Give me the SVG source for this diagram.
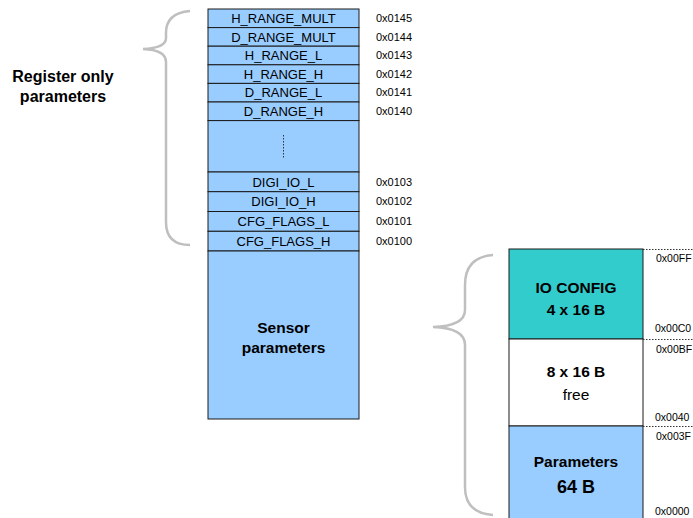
<svg xmlns="http://www.w3.org/2000/svg" width="693" height="518" viewBox="0 0 693 518">
<style>
.cell{fill:#99CCFF;stroke:#1a1a1a;stroke-width:1}
.lbl{font-family:"Liberation Sans",Arial,sans-serif;font-size:13px;fill:#000;text-anchor:middle}
.addr{font-family:"Liberation Sans",Arial,sans-serif;font-size:11px;fill:#000}
.addr2{font-family:"Liberation Sans",Arial,sans-serif;font-size:10.5px;fill:#000}
.bold{font-family:"Liberation Sans",Arial,sans-serif;font-weight:bold;fill:#000;text-anchor:middle}
.reg{font-family:"Liberation Sans",Arial,sans-serif;fill:#000;text-anchor:middle}
.brace{fill:none;stroke:#BFBFBF;stroke-width:2.5}
.dash{stroke:#333;stroke-width:1;stroke-dasharray:1.5,1.5}
</style>
<rect width="693" height="518" fill="#fff"/>
<g id="register-column">
<g id="r0145"><rect class="cell" x="208" y="9" width="151" height="18.6"/><text class="lbl" x="283.5" y="23">H_RANGE_MULT</text><text class="addr" x="376" y="22">0x0145</text></g>
<g id="r0144"><rect class="cell" x="208" y="27.6" width="151" height="18.6"/><text class="lbl" x="283.5" y="41.6">D_RANGE_MULT</text><text class="addr" x="376" y="40.6">0x0144</text></g>
<g id="r0143"><rect class="cell" x="208" y="46.2" width="151" height="18.6"/><text class="lbl" x="283.5" y="60.2">H_RANGE_L</text><text class="addr" x="376" y="59.2">0x0143</text></g>
<g id="r0142"><rect class="cell" x="208" y="64.8" width="151" height="18.6"/><text class="lbl" x="283.5" y="78.8">H_RANGE_H</text><text class="addr" x="376" y="77.8">0x0142</text></g>
<g id="r0141"><rect class="cell" x="208" y="83.4" width="151" height="18.6"/><text class="lbl" x="283.5" y="97.4">D_RANGE_L</text><text class="addr" x="376" y="96.4">0x0141</text></g>
<g id="r0140"><rect class="cell" x="208" y="102" width="151" height="18.6"/><text class="lbl" x="283.5" y="116">D_RANGE_H</text><text class="addr" x="376" y="115">0x0140</text></g>
<g id="rdots"><rect class="cell" x="208" y="120.6" width="151" height="51.4"/><line class="dash" x1="283.5" y1="135" x2="283.5" y2="158"/></g>
<g id="r0103"><rect class="cell" x="208" y="172" width="151" height="19.7"/><text class="lbl" x="283.5" y="186.5">DIGI_IO_L</text><text class="addr" x="376" y="185.5">0x0103</text></g>
<g id="r0102"><rect class="cell" x="208" y="191.7" width="151" height="19.8"/><text class="lbl" x="283.5" y="206.2">DIGI_IO_H</text><text class="addr" x="376" y="205.2">0x0102</text></g>
<g id="r0101"><rect class="cell" x="208" y="211.5" width="151" height="19.8"/><text class="lbl" x="283.5" y="226">CFG_FLAGS_L</text><text class="addr" x="376" y="225">0x0101</text></g>
<g id="r0100"><rect class="cell" x="208" y="231.3" width="151" height="19.7"/><text class="lbl" x="283.5" y="245.7">CFG_FLAGS_H</text><text class="addr" x="376" y="244.7">0x0100</text></g>
<g id="sensor"><rect class="cell" x="208" y="251" width="151" height="168"/><text class="bold" x="283.5" y="333" font-size="15.5">Sensor</text><text class="bold" x="283.5" y="353" font-size="15.5">parameters</text></g>
</g>
<g id="register-label"><text class="bold" x="63" y="82" font-size="16">Register only</text><text class="bold" x="63" y="102" font-size="16">parameters</text></g>
<g id="memory-column">
<g id="io-config"><rect x="509" y="249" width="134" height="90" fill="#33CCCC" stroke="#1a1a1a" stroke-width="1"/><text class="bold" x="576" y="293" font-size="15.5">IO CONFIG</text><text class="bold" x="576" y="315" font-size="15.5">4 x 16 B</text></g>
<g id="free"><rect x="509" y="339" width="134" height="87" fill="#fff" stroke="#1a1a1a" stroke-width="1"/><text class="bold" x="576" y="377" font-size="15.5">8 x 16 B</text><text class="reg" x="576" y="400" font-size="15.5">free</text></g>
<g id="params"><rect x="509" y="426" width="134" height="100" fill="#99CCFF" stroke="#1a1a1a" stroke-width="1"/><text class="bold" x="576" y="467" font-size="15.5">Parameters</text><text class="bold" x="576" y="493" font-size="18">64 B</text></g>
<g id="addr-marks">
<line class="dash" x1="643" y1="249.5" x2="693" y2="249.5"/>
<line class="dash" x1="643" y1="339.5" x2="693" y2="339.5"/>
<line class="dash" x1="643" y1="426.5" x2="693" y2="426.5"/>
<text class="addr2" x="656" y="262">0x00FF</text>
<text class="addr2" x="655" y="332">0x00C0</text>
<text class="addr2" x="656" y="353">0x00BF</text>
<text class="addr2" x="655" y="421">0x0040</text>
<text class="addr2" x="656" y="440">0x003F</text>
<text class="addr2" x="655" y="515">0x0000</text>
</g>
</g>
<g id="connectors">
<path class="brace" d="M190,11 Q166,13 166,33 L166,38 Q166,48 143,49 Q166,50 166,62 L166,222 Q166,245 190,245"/>
<path class="brace" d="M493,255 Q465,257 465,285 L465,310 Q465,326 433,327 Q465,328 465,345 L465,487 Q465,513 493,515"/>
</g>
</svg>
